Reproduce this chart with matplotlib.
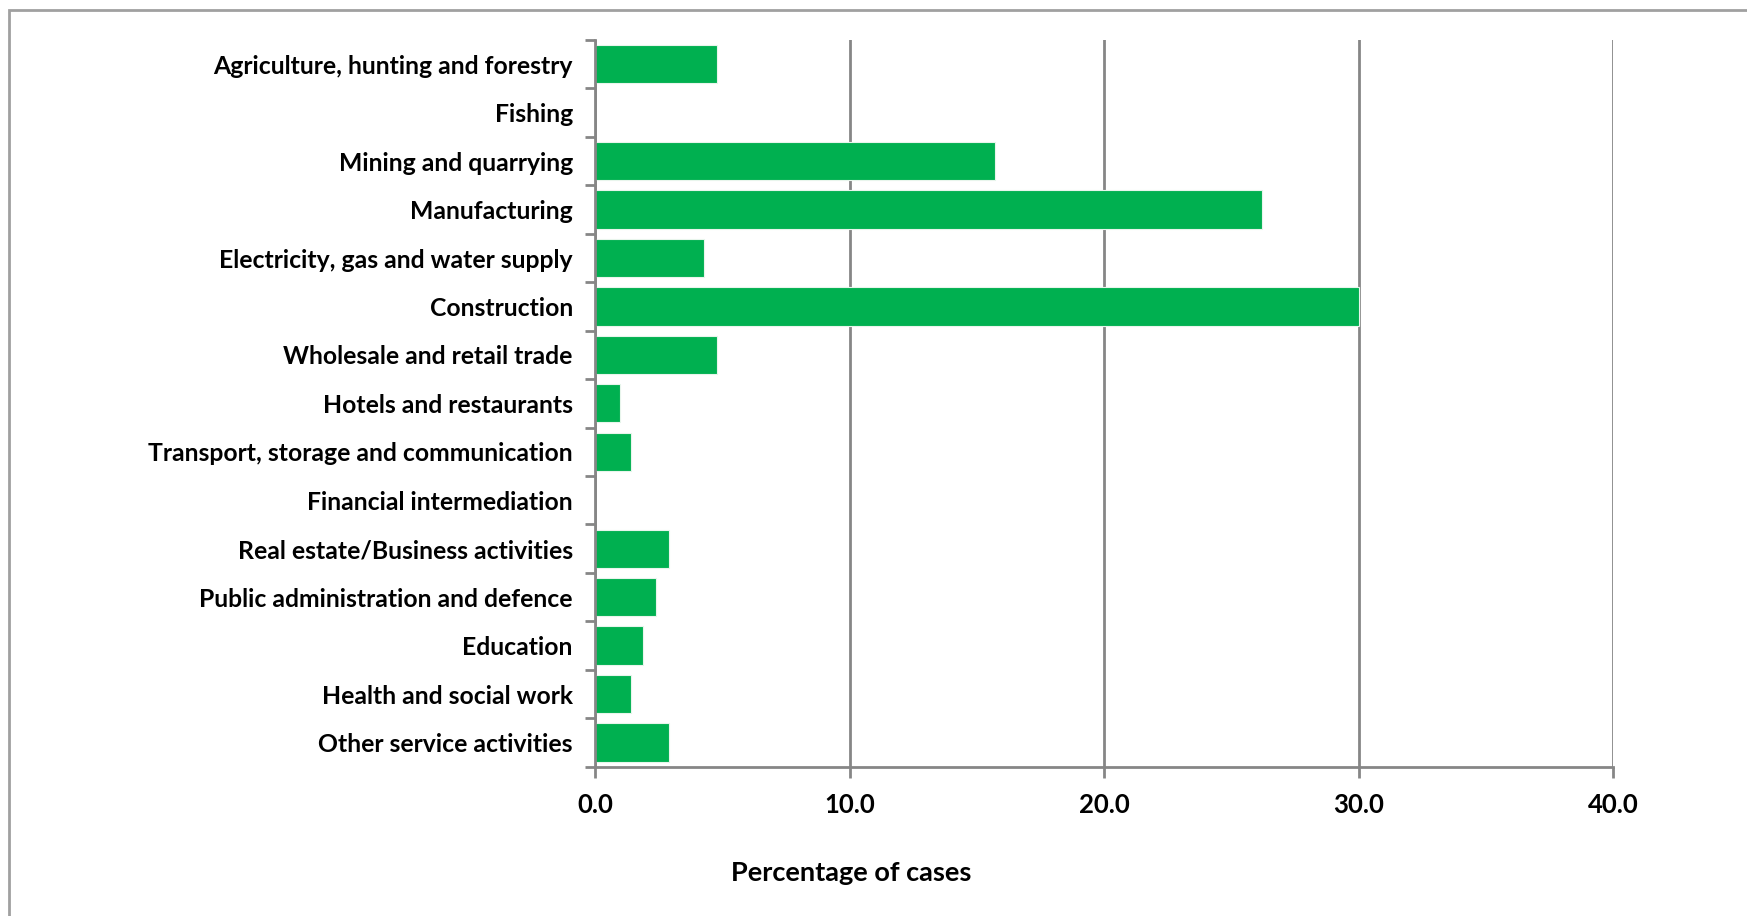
import matplotlib
matplotlib.use("Agg")
import matplotlib.pyplot as plt
from matplotlib.patches import Rectangle

categories = [
    "Agriculture, hunting and forestry",
    "Fishing",
    "Mining and quarrying",
    "Manufacturing",
    "Electricity, gas and water supply",
    "Construction",
    "Wholesale and retail trade",
    "Hotels and restaurants",
    "Transport, storage and communication",
    "Financial intermediation",
    "Real estate/Business activities",
    "Public administration and defence",
    "Education",
    "Health and social work",
    "Other service activities",
]
percent = [4.8, 0.0, 15.7, 26.2, 4.3, 30.0, 4.8, 1.0, 1.4, 0.0, 2.9, 2.4, 1.9, 1.4, 2.9]
x_ticks = [0, 10, 20, 30, 40]

GREY = "#868686"

plt.rcParams["font.family"] = ["Lato", "DejaVu Sans"]
plt.rcParams["font.weight"] = "bold"

fig = plt.figure(figsize=(17.47, 9.16), dpi=100)
ax = fig.add_axes([595 / 1747, 1 - 766.7 / 916, (1613 - 595) / 1747, (766.7 - 40) / 916])

pos = list(range(len(categories)))
ax.barh(pos, percent, height=0.79, color="#00B050", edgecolor="#e8f5ec", linewidth=0.8, zorder=3)

ax.set_ylim(len(categories) - 0.5, -0.5)
ax.set_xlim(0, 40)
ax.set_xticks(x_ticks)
ax.set_xticklabels([f"{t:.1f}" for t in x_ticks])

# category labels centred, ticks on the boundaries
ax.set_yticks(pos)
ax.set_yticklabels(categories)
ax.set_yticks([p - 0.5 for p in pos] + [len(categories) - 0.5], minor=True)
ax.tick_params(axis="y", which="major", length=0, pad=16, labelsize=17.8)
ax.tick_params(axis="y", which="minor", length=7, width=2, color=GREY)
ax.tick_params(axis="x", length=8, width=2, color=GREY, pad=11, labelsize=18.5)

ax.grid(axis="x", color=GREY, linewidth=2, zorder=0)
for side in ["top", "right"]:
    ax.spines[side].set_visible(False)
for side in ["left", "bottom"]:
    ax.spines[side].set_color(GREY)
    ax.spines[side].set_linewidth(2)
    ax.spines[side].set_zorder(4)

ax.set_xlabel("Percentage of cases", fontsize=19.5, fontweight="bold")
ax.xaxis.set_label_coords((851 - 595) / 1018, (766.7 - 873) / 726.7)
ax.xaxis.label.set_verticalalignment("center")

# outer chart frame (cut by the image edge on right and bottom)
fig.patches.append(Rectangle((8.5 / 1747, -0.2), 1.5, 1.2 - 10 / 916, transform=fig.transFigure,
                             fill=False, edgecolor="#a0a0a0", linewidth=2, clip_on=False))

fig.savefig("out.png", dpi=100)
